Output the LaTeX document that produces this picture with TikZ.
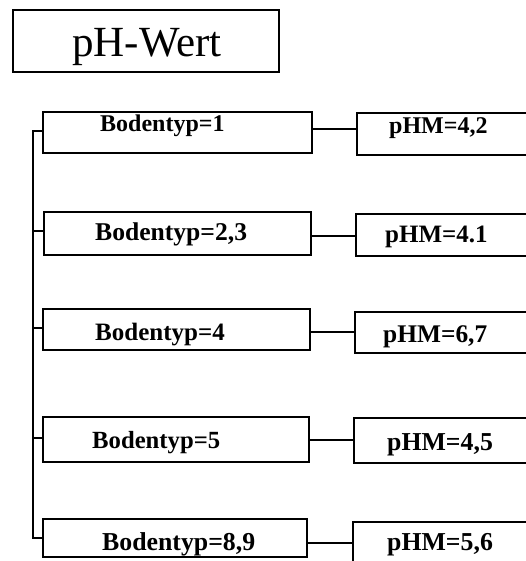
\documentclass[tikz,border=0pt]{standalone}
\usepackage{fontspec}
\setmainfont{Liberation Serif}
\begin{document}
\begin{tikzpicture}[x=1pt,y=-1pt,
  box/.style={draw, line width=1.3pt, rectangle, inner sep=0pt, outer sep=0pt, anchor=north west},
  lbl/.style={font=\fontsize{#1}{#1}\selectfont\bfseries, inner sep=0pt, anchor=base west},
  lbl/.default=25,
  wire/.style={line width=1.2pt}]
\useasboundingbox (0,0) rectangle (526,561);

% title
\node[box, minimum width=266, minimum height=62] (title) at (13,10) {};
\node[font=\fontsize{43}{43}\selectfont, inner sep=0pt, anchor=base west] (titletext) at (72,57) {pH-Wert};

% soil type boxes
\node[box, minimum width=269, minimum height=41] (b1) at (43,112) {};
\node[box, minimum width=267, minimum height=43] (b2) at (44,212) {};
\node[box, minimum width=267, minimum height=41] (b3) at (43,309) {};
\node[box, minimum width=266, minimum height=45] (b4) at (43,417) {};
\node[box, minimum width=264, minimum height=38] (b5) at (43,519) {};

\node[lbl=24] (t1) at (100,132) {Bodentyp=1};
\node[lbl=25.6] (t2) at (95,240) {Bodentyp=2,3};
\node[lbl=25] (t3) at (95,340) {Bodentyp=4};
\node[lbl=24.7] (t4) at (92,448) {Bodentyp=5};
\node[lbl=25.8] (t5) at (102,550) {Bodentyp=8,9};

% pHM boxes (running off the right edge)
\node[box, minimum width=190, minimum height=42] (p1) at (357,113) {};
\node[box, minimum width=190, minimum height=42] (p2) at (356,214) {};
\node[box, minimum width=190, minimum height=41] (p3) at (355,312) {};
\node[box, minimum width=190, minimum height=45] (p4) at (354,418) {};
\node[box, minimum width=190, minimum height=50] (p5) at (353,522) {};

\node[lbl=24] (q1) at (389,134) {pHM=4,2};
\node[lbl=25] (q2) at (385,242) {pHM=4.1};
\node[lbl=25.4] (q3) at (383,342) {pHM=6,7};
\node[lbl=25.8] (q4) at (387,450) {pHM=4,5};
\node[lbl=25.8] (q5) at (387,550) {pHM=5,6};

% row connectors
\coordinate (r1) at (0,129);
\coordinate (r2) at (0,236);
\coordinate (r3) at (0,332);
\coordinate (r4) at (0,440);
\coordinate (r5) at (0,543);
\draw[wire] (b1.east |- r1) -- (p1.west |- r1);
\draw[wire] (b2.east |- r2) -- (p2.west |- r2);
\draw[wire] (b3.east |- r3) -- (p3.west |- r3);
\draw[wire] (b4.east |- r4) -- (p4.west |- r4);
\draw[wire] (b5.east |- r5) -- (p5.west |- r5);

% left bus
\coordinate (bt) at (33,131);
\coordinate (bb) at (33,538);
\draw[wire, line width=1.5pt] (b1.west |- bt) -- (bt) -- (bb) -- (b5.west |- bb);
\draw[wire] (bt |- 0,231) -- (b2.west |- 0,231);
\draw[wire] (bt |- 0,328) -- (b3.west |- 0,328);
\draw[wire] (bt |- 0,438) -- (b4.west |- 0,438);
\end{tikzpicture}
\end{document}
